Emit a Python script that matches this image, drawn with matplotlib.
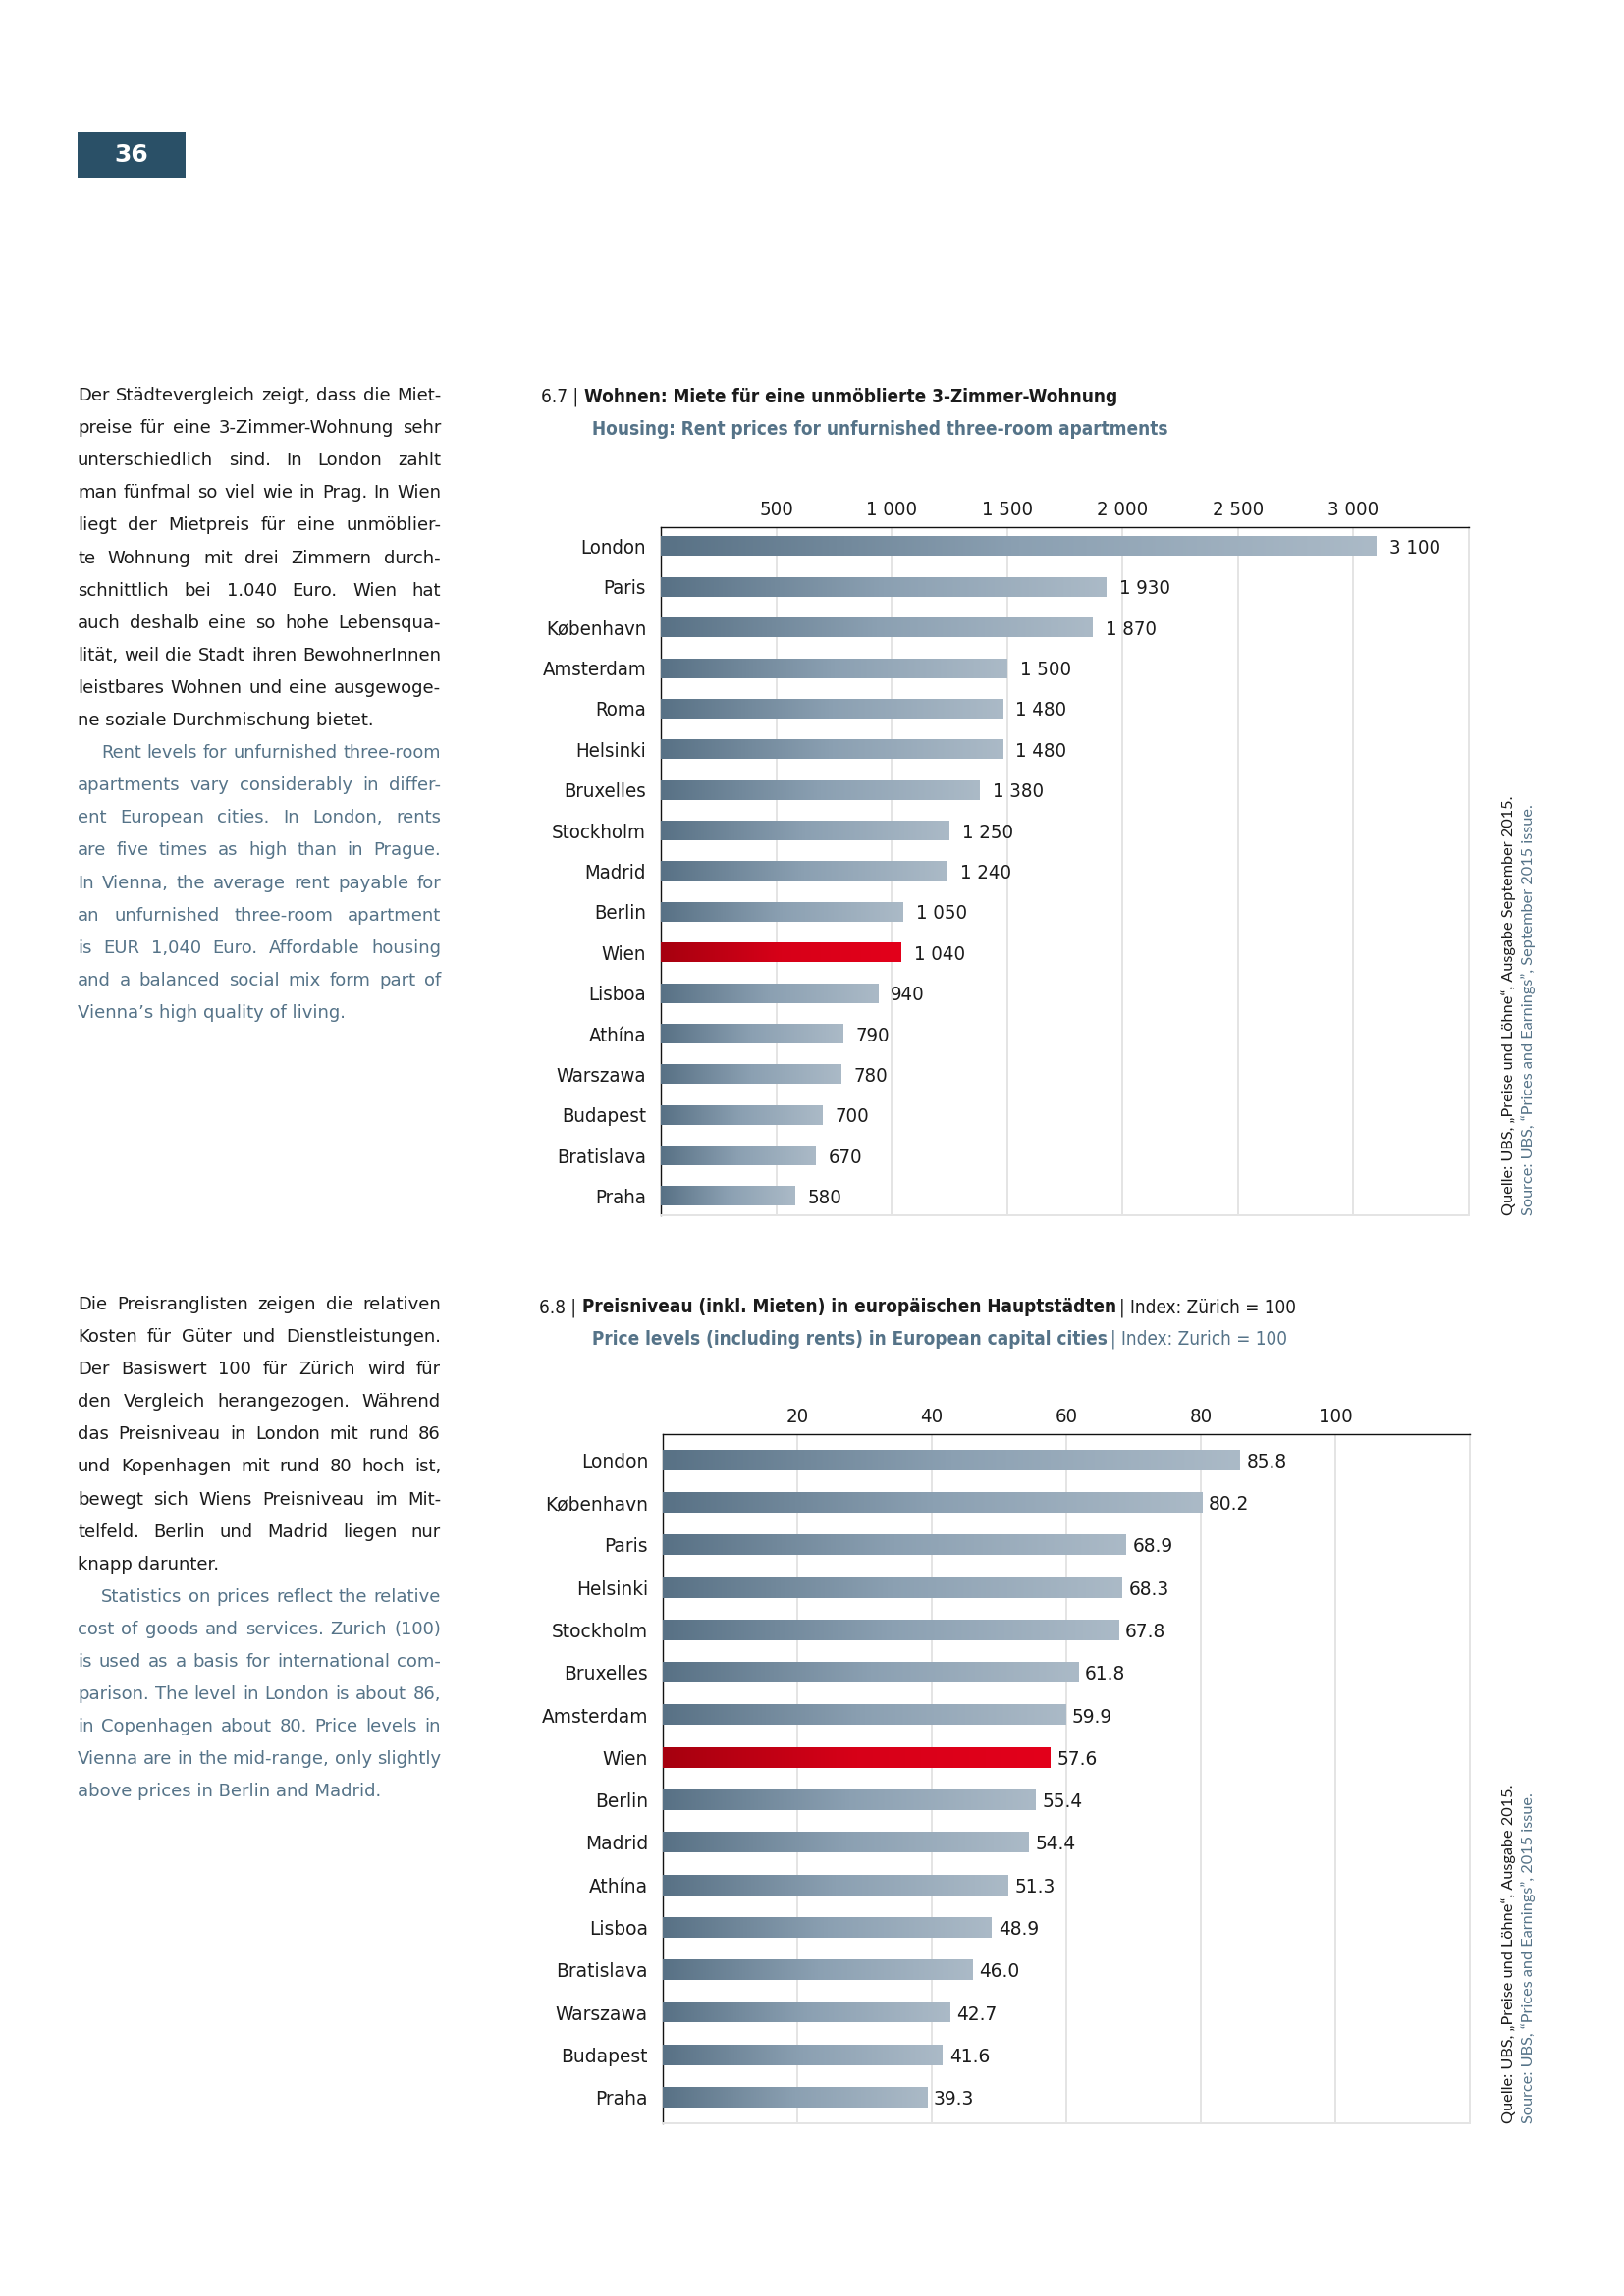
"""
Page 36: two horizontal bar charts (rents, price levels) with side text.
"""

import numpy as np
import matplotlib

matplotlib.use("Agg")
import matplotlib.pyplot as plt
from matplotlib import font_manager
from matplotlib.colors import LinearSegmentedColormap
from matplotlib.patches import Rectangle

W, H = 1654, 2339
DPI = 200

# 6.7 rent for an unfurnished three-room apartment (EUR)
rent_cities = ["London", "Paris", "København", "Amsterdam", "Roma", "Helsinki",
               "Bruxelles", "Stockholm", "Madrid", "Berlin", "Wien", "Lisboa",
               "Athína", "Warszawa", "Budapest", "Bratislava", "Praha"]
rent_values = [3100, 1930, 1870, 1500, 1480, 1480, 1380, 1250, 1240, 1050,
               1040, 940, 790, 780, 700, 670, 580]
rent_ticks = [500, 1000, 1500, 2000, 2500, 3000]
rent_ticklabels = ["500", "1 000", "1 500", "2 000", "2 500", "3 000"]

# 6.8 price level index, Zurich = 100
price_cities = ["London", "København", "Paris", "Helsinki", "Stockholm",
                "Bruxelles", "Amsterdam", "Wien", "Berlin", "Madrid", "Athína",
                "Lisboa", "Bratislava", "Warszawa", "Budapest", "Praha"]
price_values = [85.8, 80.2, 68.9, 68.3, 67.8, 61.8, 59.9, 57.6, 55.4, 54.4,
                51.3, 48.9, 46.0, 42.7, 41.6, 39.3]
price_ticks = [20, 40, 60, 80, 100]
price_ticklabels = ["20", "40", "60", "80", "100"]

text1_de = [
    "Der Städtevergleich zeigt, dass die Miet-",
    "preise für eine 3-Zimmer-Wohnung sehr",
    "unterschiedlich sind. In London zahlt",
    "man fünfmal so viel wie in Prag. In Wien",
    "liegt der Mietpreis für eine unmöblier-",
    "te Wohnung mit drei Zimmern durch-",
    "schnittlich bei 1.040 Euro. Wien hat",
    "auch deshalb eine so hohe Lebensqua-",
    "lität, weil die Stadt ihren BewohnerInnen",
    "leistbares Wohnen und eine ausgewoge-",
    "ne soziale Durchmischung bietet.",
]
text1_en = [
    "Rent levels for unfurnished three-room",
    "apartments vary considerably in differ-",
    "ent European cities. In London, rents",
    "are five times as high than in Prague.",
    "In Vienna, the average rent payable for",
    "an unfurnished three-room apartment",
    "is EUR 1,040 Euro. Affordable housing",
    "and a balanced social mix form part of",
    "Vienna’s high quality of living.",
]
text2_de = [
    "Die Preisranglisten zeigen die relativen",
    "Kosten für Güter und Dienstleistungen.",
    "Der Basiswert 100 für Zürich wird für",
    "den Vergleich herangezogen. Während",
    "das Preisniveau in London mit rund 86",
    "und Kopenhagen mit rund 80 hoch ist,",
    "bewegt sich Wiens Preisniveau im Mit-",
    "telfeld. Berlin und Madrid liegen nur",
    "knapp darunter.",
]
text2_en = [
    "Statistics on prices reflect the relative",
    "cost of goods and services. Zurich (100)",
    "is used as a basis for international com-",
    "parison. The level in London is about 86,",
    "in Copenhagen about 80. Price levels in",
    "Vienna are in the mid-range, only slightly",
    "above prices in Berlin and Madrid.",
]

BLACK = "#1b1b1b"
SLATE = "#557388"
BOX = "#2a5067"

blue_cmap = LinearSegmentedColormap.from_list("slate", ["#587185", "#8ba0b2", "#abbac7"])
red_cmap = LinearSegmentedColormap.from_list("red", ["#a6000f", "#d70018", "#e3001b"])


def pick_condensed():
    names = {f.name for f in font_manager.fontManager.ttflist}
    if "Liberation Sans Narrow" in names:
        return {"family": "Liberation Sans Narrow"}, 8.0
    for f in font_manager.fontManager.ttflist:
        if f.name == "DejaVu Sans" and "Condensed" in f.fname:
            return {"family": "DejaVu Sans", "stretch": "condensed"}, 7.3
    return {"family": "Roboto"}, 7.0


COND, CSIZE = pick_condensed()
WIDE = {"family": "DejaVu Sans"}
BODY = {"family": "DejaVu Sans"}
BODY_SIZE = 6.5
SRC = {"family": "Lato"}


def fx(x):
    return x / W


def fy(y):
    return 1 - y / H


def put_runs(fig, x, y, runs, size, font):
    # runs: (text, weight, color, gap after in px)
    r = fig.canvas.get_renderer()
    for s, weight, color, gap in runs:
        t = fig.text(fx(x), fy(y), s, fontsize=size, fontweight=weight,
                     color=color, va="baseline", ha="left", **font)
        x += t.get_window_extent(r).width + gap


def put_paragraph(fig, lines, x0, x1, y, step, color, indent=0):
    r = fig.canvas.get_renderer()
    for k, line in enumerate(lines):
        left = x0 + (indent if k == 0 else 0)
        last = k == len(lines) - 1
        words = line.split(" ")
        if last or len(words) == 1:
            fig.text(fx(left), fy(y), line, fontsize=BODY_SIZE, color=color,
                     va="baseline", ha="left", **BODY)
        else:
            size = BODY_SIZE
            while True:
                arts, widths = [], []
                for w in words:
                    t = fig.text(0, fy(y), w, fontsize=size, color=color,
                                 va="baseline", ha="left", **BODY)
                    arts.append(t)
                    widths.append(t.get_window_extent(r).width)
                gap = (x1 - left - sum(widths)) / (len(words) - 1)
                if gap >= 5 or size < BODY_SIZE - 0.6:
                    break
                # line too tight for the font: shrink a bit
                for t in arts:
                    t.remove()
                size -= 0.1
            x = left
            for t, wd in zip(arts, widths):
                t.set_x(fx(x))
                x += wd + gap
        y += step
    return y


def bar_chart(ax, cities, values, xmax, ticks, ticklabels, fmt, margin,
              lab_font, lab_size, gap_pt):
    grad = np.linspace(0, 1, 256).reshape(1, -1)
    bh = 0.48
    for i, (c, v) in enumerate(zip(cities, values)):
        cmap = red_cmap if c == "Wien" else blue_cmap
        ax.imshow(grad, cmap=cmap, aspect="auto", interpolation="bilinear",
                  extent=(0, v, i + bh / 2, i - bh / 2), zorder=3)
        ax.annotate(fmt(v), (v, i), xytext=(gap_pt, 0), textcoords="offset points",
                    ha="left", va="center_baseline", fontsize=lab_size,
                    color=BLACK, **lab_font)
    ax.set_xlim(0, xmax)
    ax.set_ylim(len(cities) - 1 + margin, -margin)
    ax.set_yticks(range(len(cities)))
    ax.set_yticklabels(cities, fontsize=lab_size, color=BLACK, **lab_font)
    ax.set_xticks(ticks)
    ax.set_xticklabels(ticklabels, fontsize=CSIZE, color=BLACK, **COND)
    ax.xaxis.tick_top()
    ax.tick_params(axis="both", length=0)
    ax.tick_params(axis="x", pad=3.0)
    ax.tick_params(axis="y", pad=5.4)
    ax.grid(axis="x", color="#e4e4e4", lw=0.7, zorder=0)
    ax.set_axisbelow(True)
    for side in ("top", "left"):
        ax.spines[side].set_color("#111111")
        ax.spines[side].set_linewidth(0.5)
    for side in ("right", "bottom"):
        ax.spines[side].set_color("#e4e4e4")
        ax.spines[side].set_linewidth(0.7)


def fmt_rent(v):
    return f"{v:,}".replace(",", " ")


def fmt_price(v):
    return f"{v:.1f}"


fig = plt.figure(figsize=(W / DPI, H / DPI), dpi=DPI)
fig.canvas.draw()

# page number box
fig.patches.append(Rectangle((fx(79), fy(181)), (189 - 79) / W, (181 - 134) / H,
                             transform=fig.transFigure, color=BOX, lw=0))
fig.text(fx(134), fy(158), "36", color="white", fontsize=9, fontweight="bold",
         ha="center", va="center", **BODY)

# left column text
y = put_paragraph(fig, text1_de, 79, 449, 408, 33.1, BLACK)
put_paragraph(fig, text1_en, 79, 449, y, 33.1, SLATE, indent=24)
y = put_paragraph(fig, text2_de, 79, 449, 1334, 33.1, BLACK)
put_paragraph(fig, text2_en, 79, 449, y, 33.1, SLATE, indent=24)

TSIZE = 7.3 * 0.93

# chart 6.7
put_runs(fig, 551, 410, [("6.7 |", "normal", BLACK, 6),
                         ("Wohnen: Miete für eine unmöblierte 3-Zimmer-Wohnung",
                          "bold", BLACK, 0)], TSIZE, COND)
put_runs(fig, 603, 443, [("Housing: Rent prices for unfurnished three-room apartments",
                          "bold", SLATE, 0)], TSIZE, COND)
ax1 = fig.add_axes([fx(673), fy(1238), (1496 - 673) / W, (1238 - 537) / H])
bar_chart(ax1, rent_cities, rent_values, 3500, rent_ticks, rent_ticklabels,
          fmt_rent, 0.47, COND, CSIZE, 4.7)

# chart 6.8
put_runs(fig, 549, 1337, [("6.8 |", "normal", BLACK, 6),
                          ("Preisniveau (inkl. Mieten) in europäischen Hauptstädten",
                           "bold", BLACK, 3),
                          ("| Index: Zürich = 100", "normal", BLACK, 0)],
         TSIZE, COND)
put_runs(fig, 603, 1370, [("Price levels (including rents) in European capital cities",
                           "bold", SLATE, 3),
                          ("| Index: Zurich = 100", "normal", SLATE, 0)],
         TSIZE, COND)
ax2 = fig.add_axes([fx(675), fy(2163), (1497 - 675) / W, (2163 - 1461) / H])
bar_chart(ax2, price_cities, price_values, 120, price_ticks, price_ticklabels,
          fmt_price, 0.61, WIDE, 6.7, 2.4)

# sources, rotated
SSIZE = 5.85
fig.text(fx(1537), fy(1238), "Quelle: UBS, „Preise und Löhne“, Ausgabe September 2015.",
         rotation=90, ha="center", va="bottom", fontsize=SSIZE, color=BLACK, **SRC)
fig.text(fx(1557), fy(1238), "Source: UBS, “Prices and Earnings”, September 2015 issue.",
         rotation=90, ha="center", va="bottom", fontsize=SSIZE, color=SLATE, **SRC)
fig.text(fx(1537), fy(2163), "Quelle: UBS, „Preise und Löhne“, Ausgabe 2015.",
         rotation=90, ha="center", va="bottom", fontsize=SSIZE, color=BLACK, **SRC)
fig.text(fx(1557), fy(2163), "Source: UBS, “Prices and Earnings”, 2015 issue.",
         rotation=90, ha="center", va="bottom", fontsize=SSIZE, color=SLATE, **SRC)

fig.savefig("out.png", dpi=DPI)
